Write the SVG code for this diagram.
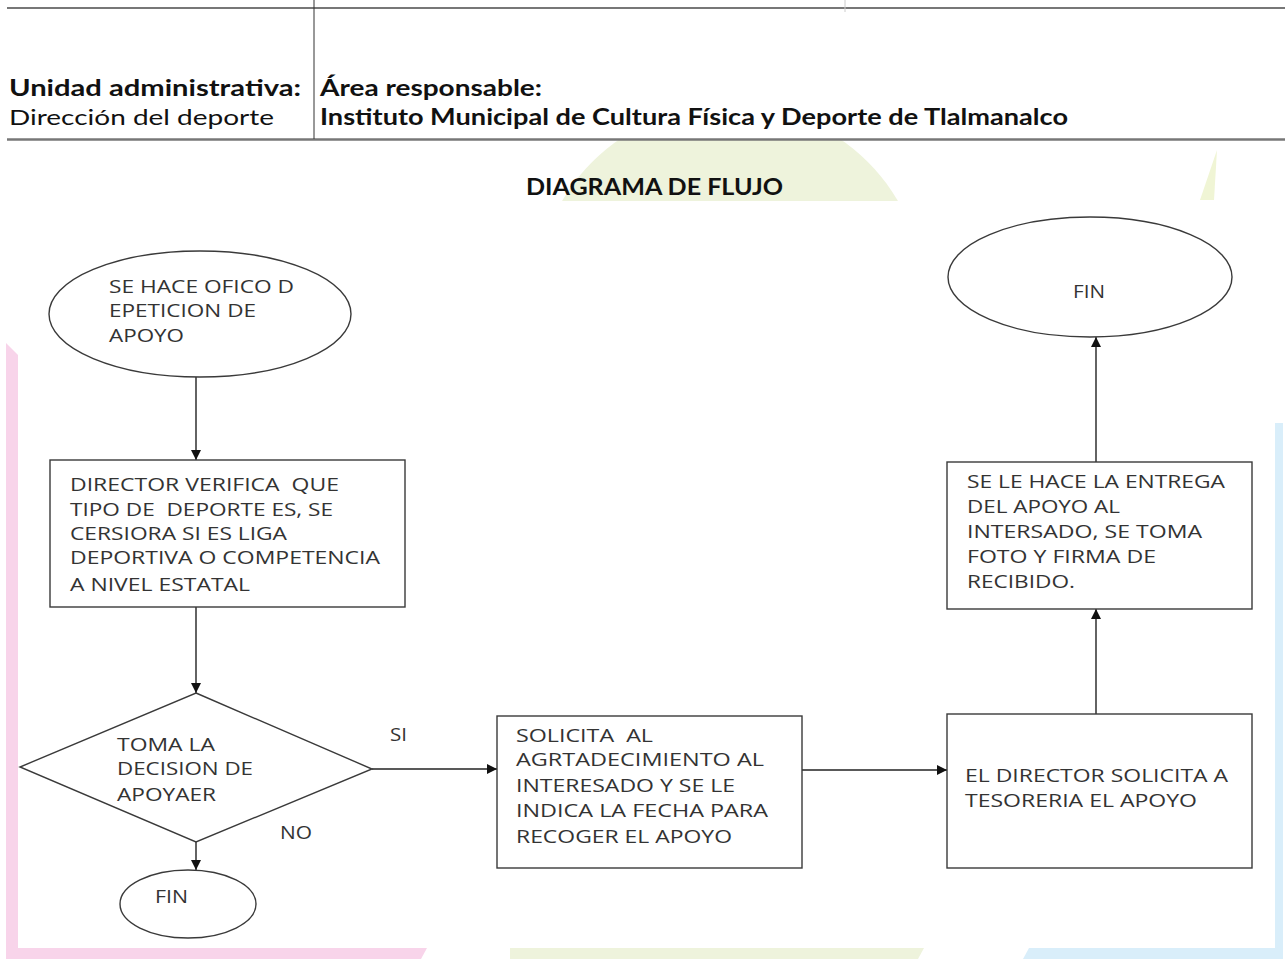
<svg xmlns="http://www.w3.org/2000/svg" width="1285" height="959" viewBox="0 0 1285 959">
<style>
.hd{font-family:Lato,"Open Sans","Liberation Sans",sans-serif;font-size:22px;fill:#111}
.b{font-weight:bold}
.t{font-family:"Open Sans","Noto Sans","Liberation Sans",sans-serif;font-size:17.5px;fill:#333}
.sh{fill:#fff;stroke:#3a3a3a;stroke-width:1.4}
.cn{stroke:#222;stroke-width:1.4;fill:none;marker-end:url(#ah)}
</style>
<defs>
<marker id="ah" viewBox="0 0 10 10" refX="10" refY="5" markerWidth="10" markerHeight="10" markerUnits="userSpaceOnUse" orient="auto">
<path d="M0,0 L10,5 L0,10 z" fill="#111"/>
</marker>
</defs>
<rect width="1285" height="959" fill="#fff"/>
<g id="watermark">
<circle cx="730" cy="300" r="195" fill="#eef3dc"/>
<polygon points="1200,200 1217,150 1214,200" fill="#f0f5d5"/>
<polygon points="6,343 18,355 18,959 6,959" fill="#f8d4ea"/>
<polygon points="6,948 427,948 421,959 6,959" fill="#f8d4ea"/>
<polygon points="510,948 924,948 918,959 510,959" fill="#eef3dc"/>
<polygon points="1029,948 1283,948 1283,959 1023,959" fill="#d9eefa"/>
<polygon points="1275,423 1283,423 1283,959 1275,959" fill="#d9eefa"/>
<rect x="18" y="201" width="1257" height="747" fill="#fff"/>
</g>
<g id="header">
<rect x="0" y="9" width="1285" height="130" fill="#fff"/>
<line x1="7" y1="8" x2="1285" y2="8" stroke="#777" stroke-width="2"/>
<line x1="7" y1="139.5" x2="1285" y2="139.5" stroke="#777" stroke-width="2.5"/>
<line x1="314" y1="0" x2="314" y2="139" stroke="#333" stroke-width="1"/>
<line x1="845" y1="0" x2="845" y2="12" stroke="#ccc" stroke-width="1"/>
<text class="hd b" x="9" y="96" textLength="292" lengthAdjust="spacingAndGlyphs">Unidad administrativa:</text>
<text class="hd" x="9" y="125" textLength="265" lengthAdjust="spacingAndGlyphs">Dirección del deporte</text>
<text class="hd b" x="320" y="96" textLength="222" lengthAdjust="spacingAndGlyphs">Área responsable:</text>
<text class="hd b" x="320" y="125" textLength="748" lengthAdjust="spacingAndGlyphs">Instituto Municipal de Cultura Física y Deporte de Tlalmanalco</text>
<text class="hd b" x="526" y="195" font-size="24" textLength="257" lengthAdjust="spacingAndGlyphs">DIAGRAMA DE FLUJO</text>
</g>
<g id="connectors">
<line class="cn" x1="196" y1="377" x2="196" y2="460"/>
<line class="cn" x1="196" y1="607" x2="196" y2="693"/>
<line class="cn" x1="372" y1="769" x2="497" y2="769"/>
<line class="cn" x1="196" y1="842" x2="196" y2="870"/>
<line class="cn" x1="802" y1="770" x2="947" y2="770"/>
<line class="cn" x1="1096" y1="714" x2="1096" y2="609"/>
<line class="cn" x1="1096" y1="462" x2="1096" y2="337"/>
<text class="t" x="390" y="741" textLength="17" lengthAdjust="spacingAndGlyphs">SI</text>
<text class="t" x="280" y="839" textLength="32" lengthAdjust="spacingAndGlyphs">NO</text>
</g>
<g id="start">
<ellipse class="sh" cx="200" cy="314" rx="151" ry="63"/>
<text class="t" x="109" y="293" textLength="185" lengthAdjust="spacingAndGlyphs">SE HACE OFICO D</text>
<text class="t" x="109" y="317" textLength="147" lengthAdjust="spacingAndGlyphs">EPETICION DE</text>
<text class="t" x="109" y="342" textLength="75" lengthAdjust="spacingAndGlyphs">APOYO</text>
</g>
<g id="verifica">
<rect class="sh" x="50" y="460" width="355" height="147"/>
<text class="t" x="70" y="491" xml:space="preserve" textLength="269" lengthAdjust="spacingAndGlyphs">DIRECTOR VERIFICA  QUE</text>
<text class="t" x="70" y="516" xml:space="preserve" textLength="263" lengthAdjust="spacingAndGlyphs">TIPO DE  DEPORTE ES, SE</text>
<text class="t" x="70" y="540" textLength="217" lengthAdjust="spacingAndGlyphs">CERSIORA SI ES LIGA</text>
<text class="t" x="70" y="564" textLength="310" lengthAdjust="spacingAndGlyphs">DEPORTIVA O COMPETENCIA</text>
<text class="t" x="70" y="591" textLength="180" lengthAdjust="spacingAndGlyphs">A NIVEL ESTATAL</text>
</g>
<g id="decision">
<polygon class="sh" points="196,693 372,769 196,842 20,767"/>
<text class="t" x="117" y="751" textLength="98" lengthAdjust="spacingAndGlyphs">TOMA LA</text>
<text class="t" x="117" y="775" textLength="136" lengthAdjust="spacingAndGlyphs">DECISION DE</text>
<text class="t" x="117" y="801" textLength="99" lengthAdjust="spacingAndGlyphs">APOYAER</text>
</g>
<g id="fin-no">
<ellipse class="sh" cx="188" cy="904" rx="68" ry="34"/>
<text class="t" x="155" y="903" textLength="33" lengthAdjust="spacingAndGlyphs">FIN</text>
</g>
<g id="solicita">
<rect class="sh" x="497" y="716" width="305" height="152"/>
<text class="t" x="516" y="742" xml:space="preserve" textLength="137" lengthAdjust="spacingAndGlyphs">SOLICITA  AL</text>
<text class="t" x="516" y="766" textLength="248" lengthAdjust="spacingAndGlyphs">AGRTADECIMIENTO AL</text>
<text class="t" x="516" y="792" textLength="219" lengthAdjust="spacingAndGlyphs">INTERESADO Y SE LE</text>
<text class="t" x="516" y="817" textLength="252" lengthAdjust="spacingAndGlyphs">INDICA LA FECHA PARA</text>
<text class="t" x="516" y="843" textLength="216" lengthAdjust="spacingAndGlyphs">RECOGER EL APOYO</text>
</g>
<g id="tesoreria">
<rect class="sh" x="947" y="714" width="305" height="154"/>
<text class="t" x="965" y="782" textLength="263" lengthAdjust="spacingAndGlyphs">EL DIRECTOR SOLICITA A</text>
<text class="t" x="965" y="807" textLength="232" lengthAdjust="spacingAndGlyphs">TESORERIA EL APOYO</text>
</g>
<g id="entrega">
<rect class="sh" x="947" y="462" width="305" height="147"/>
<text class="t" x="967" y="488" textLength="258" lengthAdjust="spacingAndGlyphs">SE LE HACE LA ENTREGA</text>
<text class="t" x="967" y="513" textLength="153" lengthAdjust="spacingAndGlyphs">DEL APOYO AL</text>
<text class="t" x="967" y="538" textLength="235" lengthAdjust="spacingAndGlyphs">INTERSADO, SE TOMA</text>
<text class="t" x="967" y="563" textLength="189" lengthAdjust="spacingAndGlyphs">FOTO Y FIRMA DE</text>
<text class="t" x="967" y="588" textLength="108" lengthAdjust="spacingAndGlyphs">RECIBIDO.</text>
</g>
<g id="fin-end">
<ellipse class="sh" cx="1090" cy="277" rx="142" ry="60"/>
<text class="t" x="1073" y="298" textLength="32" lengthAdjust="spacingAndGlyphs">FIN</text>
</g>
</svg>
